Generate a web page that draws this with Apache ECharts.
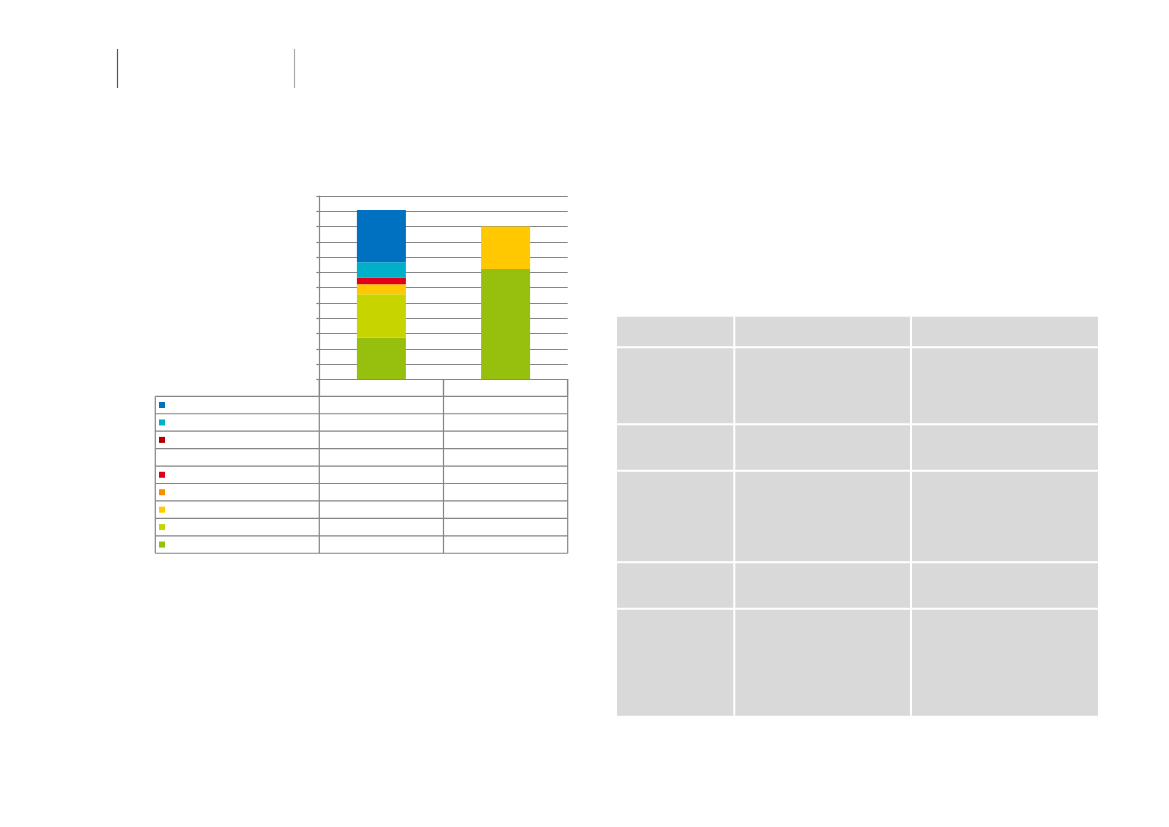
<!DOCTYPE html>
<html>
<head>
<meta charset="utf-8">
<script src="https://cdn.jsdelivr.net/npm/echarts@6/dist/echarts.min.js"></script>
<style>
html,body{margin:0;padding:0;background:#fff;}
#main{width:1169px;height:827px;}
</style>
</head>
<body>
<div id="main"></div>
<script>
// ---- data ----
const categories = ['Column A', 'Column B'];
// stacking order: bottom -> top
const seriesNames = ['s9', 's8', 's7', 's6', 's5', 's3', 's2', 's1'];
const seriesColors = ['#97bf0d', '#c8d400', '#ffc800', '#f39000', '#e1001a', '#b00000', '#00afc8', '#0070c0'];
const greenValues = [2.72, 7.22];
const yellowGreenValues = [2.84, 0];
const yellowValues = [0.67, 2.79];
const orangeValues = [0, 0];
const redValues = [0.44, 0];
const darkRedValues = [0, 0];
const cyanValues = [1.0, 0];
const blueValues = [3.42, 0];
const seriesValues = [greenValues, yellowGreenValues, yellowValues, orangeValues, redValues, darkRedValues, cyanValues, blueValues];
// legend rows of the data table (top -> bottom); null = empty row
const tableRowColors = ['#0070c0', '#00afc8', '#b00000', null, '#e1001a', '#f39000', '#ffc800', '#c8d400', '#97bf0d'];
const yMax = 12;

// ---- layout ----
const gLeft = 319.3, gRight = 567.7, gTop = 196, gBottom = 379.3;
const lineCol = '#868686';
const tLeft = 155.3, tTop = 396.3, rowH = 17.44;
const colX = [tLeft, gLeft, (gLeft + gRight) / 2, gRight];

const graphics = [];
// top-left header lines
graphics.push({type:'line', shape:{x1:117.5,y1:49,x2:117.5,y2:88}, style:{stroke:'#555',lineWidth:1.2}, silent:true});
graphics.push({type:'line', shape:{x1:294.5,y1:49,x2:294.5,y2:88}, style:{stroke:'#aaa',lineWidth:1.2}, silent:true});

// data table
const nRows = tableRowColors.length;
const tBottom = tTop + rowH * nRows;
for (let k = 0; k <= nRows; k++) {
  const y = tTop + rowH * k;
  graphics.push({type:'line', shape:{x1:tLeft,y1:y,x2:gRight,y2:y}, style:{stroke:lineCol,lineWidth:1.2}, silent:true});
}
graphics.push({type:'line', shape:{x1:tLeft,y1:tTop,x2:tLeft,y2:tBottom}, style:{stroke:lineCol,lineWidth:1.2}, silent:true});
for (let c = 1; c < colX.length; c++) {
  graphics.push({type:'line', shape:{x1:colX[c],y1:gBottom,x2:colX[c],y2:tBottom}, style:{stroke:lineCol,lineWidth:1.2}, silent:true});
}
tableRowColors.forEach((col, k) => {
  if (!col) return;
  const cy = tTop + rowH * (k + 0.5);
  graphics.push({type:'rect', shape:{x:159,y:cy-3,width:6,height:6}, style:{fill:col}, silent:true});
});

// grey table on the right
const gxCols = [617, 734.3, 911, 1098];
const gyRows = [316.7, 347.3, 424.3, 470.7, 562.3, 608.7, 715.7];
graphics.push({type:'rect', shape:{x:gxCols[0],y:gyRows[0],width:gxCols[3]-gxCols[0],height:gyRows[6]-gyRows[0]}, style:{fill:'#d9d9d9'}, silent:true});
for (let i = 1; i < gxCols.length - 1; i++) {
  graphics.push({type:'line', shape:{x1:gxCols[i],y1:gyRows[0],x2:gxCols[i],y2:gyRows[6]}, style:{stroke:'#fff',lineWidth:2}, silent:true});
}
for (let j = 1; j < gyRows.length - 1; j++) {
  graphics.push({type:'line', shape:{x1:gxCols[0],y1:gyRows[j],x2:gxCols[3],y2:gyRows[j]}, style:{stroke:'#fff',lineWidth:2}, silent:true});
}

const chart = echarts.init(document.getElementById('main'), null, {renderer:'canvas'});
chart.setOption({
  animation: false,
  backgroundColor: '#fff',
  grid: {left: gLeft, top: gTop, width: gRight - gLeft, height: gBottom - gTop, containLabel: false},
  xAxis: {
    type: 'category', data: categories,
    axisLine: {show: true, lineStyle: {color: lineCol, width: 1.2}},
    axisTick: {show: true, length: 17, inside: false, lineStyle: {color: lineCol, width: 1.2}},
    axisLabel: {show: false},
    splitLine: {show: false}
  },
  yAxis: {
    type: 'value', min: 0, max: yMax, interval: 1,
    axisLine: {show: true, lineStyle: {color: lineCol, width: 1.2}},
    axisTick: {show: true, length: 3, lineStyle: {color: lineCol, width: 1.2}},
    axisLabel: {show: false},
    splitLine: {show: true, lineStyle: {color: lineCol, width: 1.2}}
  },
  series: seriesNames.map((n, i) => ({
    name: n, type: 'bar', stack: 'total', barWidth: 49,
    itemStyle: {color: seriesColors[i]},
    data: seriesValues[i]
  })),
  graphic: graphics
});
</script>
</body>
</html>
